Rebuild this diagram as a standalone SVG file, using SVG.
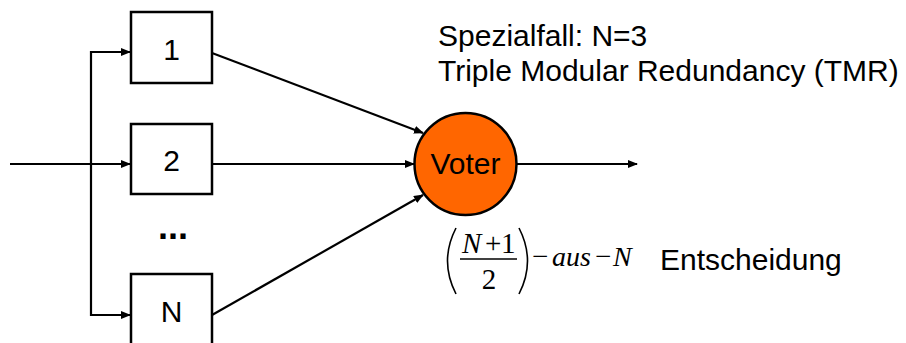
<svg xmlns="http://www.w3.org/2000/svg" width="906" height="343" viewBox="0 0 906 343">
  <defs>
    <marker id="arrow" markerWidth="10" markerHeight="8" refX="9" refY="4" orient="auto" markerUnits="userSpaceOnUse">
      <path d="M0,0 L10,4 L0,8 Z" fill="#000"/>
    </marker>
    <style>
      .box { fill: #fff; stroke: #000; stroke-width: 2.5; }
      .wire { fill: none; stroke: #000; stroke-width: 2.2; }
      .lbl { font-family: "Liberation Sans", Arial, sans-serif; font-size: 30px; fill: #000; }
      .math { font-family: "Liberation Serif", "Times New Roman", serif; font-size: 29px; fill: #000; }
      .it { font-style: italic; }
      .paren { fill: none; stroke: #000; stroke-width: 1.6; }
    </style>
  </defs>
  <rect width="906" height="343" fill="#fff"/>

  <!-- connectors -->
  <g id="connectors">
    <line class="wire" x1="10" y1="164" x2="130" y2="164" marker-end="url(#arrow)"/>
    <path class="wire" d="M130,52 L91,52 L91,315 L130,315" marker-end="url(#arrow)"/>
    <line class="wire" x1="91" y1="52" x2="130" y2="52" marker-end="url(#arrow)"/>
    <line class="wire" x1="212" y1="53" x2="423" y2="133" marker-end="url(#arrow)"/>
    <line class="wire" x1="212" y1="164" x2="414" y2="164" marker-end="url(#arrow)"/>
    <line class="wire" x1="212" y1="315" x2="423" y2="195" marker-end="url(#arrow)"/>
    <line class="wire" x1="517" y1="164" x2="637" y2="164" marker-end="url(#arrow)"/>
  </g>

  <!-- modules -->
  <g id="module-1">
    <rect class="box" x="131" y="12" width="81" height="71"/>
    <text class="lbl" x="171.5" y="60" text-anchor="middle">1</text>
  </g>
  <g id="module-2">
    <rect class="box" x="131" y="124" width="81" height="70"/>
    <text class="lbl" x="171.5" y="171" text-anchor="middle">2</text>
  </g>
  <g id="ellipsis">
    <text class="lbl" x="173" y="239" text-anchor="middle" style="font-size:36px;font-weight:bold">...</text>
  </g>
  <g id="module-n">
    <rect class="box" x="131" y="274" width="81" height="80"/>
    <text class="lbl" x="171.5" y="322" text-anchor="middle">N</text>
  </g>

  <!-- voter -->
  <g id="voter">
    <circle cx="465.5" cy="164" r="51" fill="#FF6600" stroke="#000" stroke-width="2.5"/>
    <text class="lbl" x="465.5" y="174" text-anchor="middle">Voter</text>
  </g>

  <!-- headings -->
  <g id="title">
    <text class="lbl" x="438" y="46">Spezialfall: N=3</text>
    <text class="lbl" x="438" y="81">Triple Modular Redundancy (TMR)</text>
  </g>

  <!-- majority formula -->
  <g id="formula">
    <path class="paren" d="M456,228 Q439,261 456,294"/>
    <text class="math it" x="462" y="253">N</text>
    <text class="math" x="485" y="253">+</text>
    <text class="math" x="501" y="253">1</text>
    <line x1="460" y1="259" x2="517" y2="259" stroke="#000" stroke-width="1.3"/>
    <text class="math" x="489" y="289" text-anchor="middle">2</text>
    <path class="paren" d="M519,228 Q536,261 519,294"/>
    <text class="math" x="532" y="266">−</text>
    <text class="math it" x="552" y="266" style="font-size:28px">aus</text>
    <text class="math" x="595" y="266">−</text>
    <text class="math it" x="613" y="266" style="font-size:28px">N</text>
    <text class="lbl" x="660" y="270">Entscheidung</text>
  </g>
</svg>
